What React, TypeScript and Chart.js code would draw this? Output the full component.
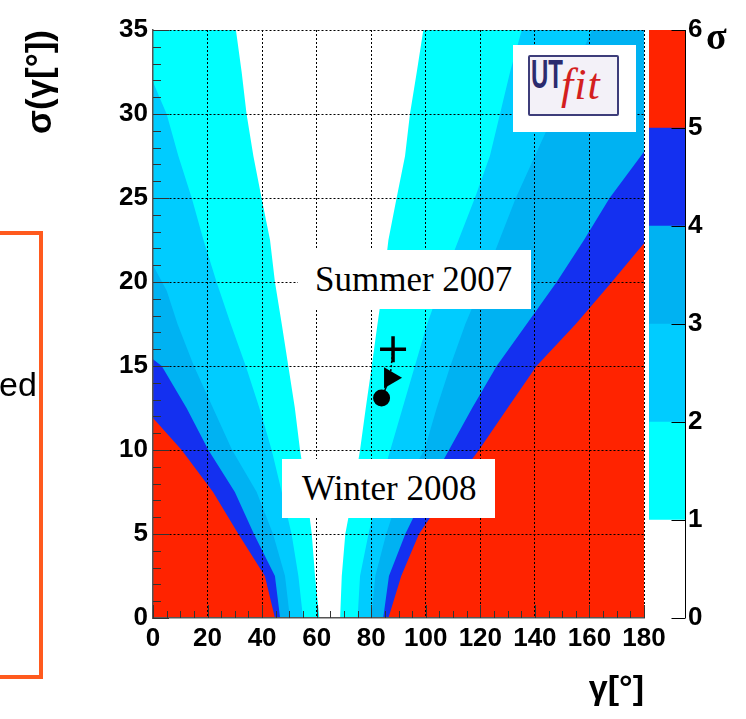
import React, { useEffect, useRef } from 'react';
import { Chart, registerables } from 'chart.js';

Chart.register(...registerables);
Chart.defaults.font.family = "'Liberation Sans', Arial, sans-serif";

// ---- colour scale (σ levels) ----
const levelEdges = [0, 1, 2, 3, 4, 5, 6];
const levelColors = ['#ffffff', '#00ffff', '#00ccff', '#00b2f2', '#1430f0', '#ff2300'];

// ---- axis ranges / ticks ----
const gammaRange = [0, 180];
const sigmaRange = [0, 35];
const gammaLabelStep = 20;
const sigmaLabelStep = 5;

// ---- contour boundaries: [γ, σ(γ)] ----
// left side: region with σ >= level lies at smaller γ
const leftLevel1 = [[61, 0], [59.4, 2.5], [58.2, 5], [56.3, 7.5], [53.9, 10], [52, 12.5], [49.6, 15], [47.2, 17.5], [44.7, 20], [42.9, 22.5], [39.8, 25], [36.8, 27.5], [34.3, 30], [32.5, 32.5], [30.4, 35]];
const leftLevel2 = [[55, 0], [53.3, 2.5], [50.8, 5], [47.2, 7.5], [43.5, 10], [39, 12.5], [34, 15], [28.5, 17.5], [23.3, 20], [18.5, 22.5], [14.2, 25], [9.3, 27.5], [5, 30], [0, 31.9]];
const leftLevel3 = [[50.2, 0], [48.4, 2.5], [44, 5], [38, 7.5], [29, 10], [22, 12.5], [15, 15], [9, 17.5], [5, 19.5], [0, 21]];
const leftLevel4 = [[46.6, 0], [44.7, 2.5], [37, 5], [30, 7.5], [20.3, 10], [12.3, 12.5], [3.2, 15], [0, 15.4]];
const leftLevel5 = [[44.7, 0], [41, 2.5], [31.3, 5], [22, 7.5], [10.5, 10], [0, 11.9]];
// right side: region with σ >= level lies at larger γ
const rightLevel1 = [[68.6, 0], [69.2, 2.5], [70.5, 5], [73.4, 7.5], [75.9, 10], [78, 12.5], [80.2, 15], [82.3, 17.5], [84.5, 20], [86.3, 22.5], [89.3, 25], [92.4, 27.5], [94.2, 30], [96.7, 32.5], [99.1, 35]];
const rightLevel2 = [[75, 0], [75.9, 2.5], [79, 5], [82.5, 7.5], [87, 10], [91.5, 12.5], [96, 15], [100.5, 17.5], [106, 20], [112, 22.5], [118, 25], [123.5, 27.5], [127.2, 30], [130.9, 32.5], [135.2, 35]];
const rightLevel3 = [[80, 0], [81.5, 2.5], [85.5, 5], [90.5, 7.5], [99.5, 10], [104, 12.5], [109, 15], [114.5, 17.5], [121, 20], [127, 22.5], [133, 25], [140, 27.5], [147, 30], [154, 32.5], [161, 35]];
const rightLevel4 = [[84.4, 0], [86.5, 2.5], [92.5, 5], [100, 7.5], [108.5, 10], [117, 12.5], [126, 15], [137, 17.5], [148, 20], [158, 22.5], [167.4, 25], [180, 27.75]];
const rightLevel5 = [[86.3, 0], [91, 2.5], [97.5, 5], [108, 7.5], [119.5, 10], [130, 12.5], [140.6, 15], [155, 17.5], [168.2, 20], [180, 22.3]];

// ---- markers [γ, σ(γ)] ----
const summerPoint = [88, 16];
const arrowPoint = [86.9, 14.3];
const winterPoint = [83.8, 13.1];

function leftPolygon(b: number[][]) {
  const top = b[b.length - 1];
  const pts = [{ x: gammaRange[0], y: 0 }, { x: gammaRange[0], y: top[1] }];
  for (let i = b.length - 1; i >= 0; i--) pts.push({ x: b[i][0], y: b[i][1] });
  return pts;
}
function rightPolygon(b: number[][]) {
  const top = b[b.length - 1];
  const pts = [{ x: gammaRange[1], y: 0 }, { x: gammaRange[1], y: top[1] }];
  for (let i = b.length - 1; i >= 0; i--) pts.push({ x: b[i][0], y: b[i][1] });
  return pts;
}

function regionDataset(points: any[], color: string) {
  return {
    data: points,
    fill: 'shape',
    backgroundColor: color,
    borderColor: color,
    borderWidth: 0,
    pointRadius: 0,
    showLine: true,
  };
}

const rootTicks = {
  id: 'rootTicks',
  afterDraw(chart: any) {
    const { ctx, chartArea, scales } = chart;
    const x = scales.x;
    const y = scales.y;
    ctx.save();
    ctx.strokeStyle = '#333';
    ctx.lineWidth = 1;
    ctx.beginPath();
    for (let g = gammaRange[0]; g <= gammaRange[1]; g += 5) {
      const px = Math.round(x.getPixelForValue(g)) + 0.5;
      const len = g % gammaLabelStep === 0 ? 13 : 7;
      ctx.moveTo(px, chartArea.bottom);
      ctx.lineTo(px, chartArea.bottom - len);
    }
    for (let s = sigmaRange[0]; s <= sigmaRange[1]; s += 1) {
      const py = Math.round(y.getPixelForValue(s)) + 0.5;
      const len = s % sigmaLabelStep === 0 ? 16 : 8;
      ctx.moveTo(chartArea.left, py);
      ctx.lineTo(chartArea.left + len, py);
    }
    ctx.stroke();
    ctx.restore();
  },
};

const barTicks = {
  id: 'barTicks',
  afterDraw(chart: any) {
    const { ctx, chartArea, scales } = chart;
    const y = scales.y;
    ctx.save();
    ctx.strokeStyle = '#000';
    ctx.lineWidth = 1;
    ctx.beginPath();
    const xr = Math.round(chartArea.right) + 0.5;
    ctx.moveTo(xr, y.getPixelForValue(levelEdges[0]));
    ctx.lineTo(xr, y.getPixelForValue(levelEdges[levelEdges.length - 1]));
    for (const v of levelEdges) {
      const py = Math.round(y.getPixelForValue(v)) + 0.5;
      ctx.moveTo(xr, py);
      ctx.lineTo(xr - 14, py);
    }
    ctx.stroke();
    ctx.restore();
  },
};

const gridColor = (c: any) => (c.tick && c.tick.value > 0 ? '#000' : 'rgba(0,0,0,0)');

function mainConfig(): any {
  const lefts = [leftLevel5, leftLevel4, leftLevel3, leftLevel2, leftLevel1];
  const rights = [rightLevel5, rightLevel4, rightLevel3, rightLevel2, rightLevel1];
  const regionSets: any[] = [];
  for (let i = 0; i < lefts.length; i++) {
    const color = levelColors[5 - i];
    regionSets.push(regionDataset(leftPolygon(lefts[i]), color));
    regionSets.push(regionDataset(rightPolygon(rights[i]), color));
  }
  return {
    type: 'line',
    data: {
      datasets: [
        {
          data: [summerPoint, arrowPoint, winterPoint].map((p) => ({ x: p[0], y: p[1] })),
          borderColor: '#000',
          borderWidth: 1.5,
          pointRadius: 0,
          fill: false,
          showLine: true,
          segment: { borderDash: (c: any) => (c.p0DataIndex === 0 ? [2, 2] : undefined) },
        },
        {
          data: [{ x: summerPoint[0], y: summerPoint[1] }],
          showLine: false,
          pointStyle: 'cross',
          pointRadius: 13,
          pointBorderWidth: 3.5,
          pointBorderColor: '#000',
          borderColor: '#000',
        },
        {
          data: [{ x: arrowPoint[0], y: arrowPoint[1] }],
          showLine: false,
          pointStyle: 'triangle',
          pointRotation: 90,
          pointRadius: 12,
          pointBorderWidth: 0,
          pointBackgroundColor: '#000',
          pointBorderColor: '#000',
        },
        {
          data: [{ x: winterPoint[0], y: winterPoint[1] }],
          showLine: false,
          pointStyle: 'circle',
          pointRadius: 8.5,
          pointBorderWidth: 0,
          pointBackgroundColor: '#000',
          pointBorderColor: '#000',
        },
        ...regionSets,
      ],
    },
    options: {
      animation: false,
      responsive: false,
      devicePixelRatio: 1,
      events: [],
      layout: { padding: { left: 0, right: 102, top: 30, bottom: 0 } },
      plugins: { legend: { display: false }, tooltip: { enabled: false } },
      scales: {
        x: {
          type: 'linear',
          min: gammaRange[0],
          max: gammaRange[1],
          ticks: { stepSize: gammaLabelStep, font: { size: 26, weight: 'bold' }, color: '#000', padding: 5, maxRotation: 0, autoSkip: false, z: 1 },
          grid: { color: gridColor, lineWidth: 1, drawTicks: false, z: 1 },
          border: { display: true, color: '#555', width: 1.5, dash: [2, 2], z: 1 },
          title: { display: true, text: 'γ[°]', align: 'end', color: '#000', font: { size: 34, weight: 'bold' }, padding: { top: 0, bottom: 9 } },
          afterFit: (s: any) => { s.height = 101; },
        },
        y: {
          type: 'linear',
          min: sigmaRange[0],
          max: sigmaRange[1],
          ticks: { stepSize: sigmaLabelStep, font: { size: 26, weight: 'bold' }, color: '#000', padding: 5, z: 1 },
          grid: { color: gridColor, lineWidth: 1, drawTicks: false, z: 1 },
          border: { display: true, color: '#555', width: 1.5, dash: [2, 2], z: 1 },
          title: { display: true, text: 'σ(γ[°])', align: 'end', color: '#000', font: { size: 35, weight: 'bold' }, padding: { top: 20, bottom: 0 } },
          afterFit: (s: any) => { s.width = 153; },
        },
      },
    },
    plugins: [rootTicks],
  };
}

function barConfig(): any {
  const datasets = levelColors.map((c, i) => ({
    data: [levelEdges[i + 1] - levelEdges[i]],
    backgroundColor: c,
    borderWidth: 0,
    barPercentage: 1,
    categoryPercentage: 1,
    stack: 'cb',
  }));
  return {
    type: 'bar',
    data: { labels: [''], datasets },
    options: {
      animation: false,
      responsive: false,
      devicePixelRatio: 1,
      events: [],
      layout: { padding: { left: 9, right: 0, top: 30, bottom: 101 } },
      plugins: { legend: { display: false }, tooltip: { enabled: false } },
      scales: {
        x: { display: false, stacked: true },
        y: {
          position: 'right',
          stacked: true,
          min: levelEdges[0],
          max: levelEdges[levelEdges.length - 1],
          ticks: { stepSize: 1, font: { size: 26, weight: 'bold' }, color: '#000', padding: 3 },
          grid: { drawOnChartArea: false, drawTicks: false },
          border: { display: false },
          afterFit: (s: any) => { s.width = 61; },
        },
      },
    },
    plugins: [barTicks],
  };
}

const serif = "'Liberation Serif', 'Times New Roman', serif";
const sans = "'Liberation Sans', Arial, sans-serif";

export default function App() {
  const mainRef = useRef<HTMLCanvasElement>(null);
  const barRef = useRef<HTMLCanvasElement>(null);

  useEffect(() => {
    const c1 = new Chart(mainRef.current as HTMLCanvasElement, mainConfig());
    const c2 = new Chart(barRef.current as HTMLCanvasElement, barConfig());
    return () => {
      c1.destroy();
      c2.destroy();
    };
  }, []);

  const box = (left: number, top: number, width: number, text: string, padLeft: number) => (
    <div
      style={{
        position: 'absolute', left, top, width, height: 59, background: '#fff',
        fontFamily: serif, fontSize: 35, lineHeight: '60px', color: '#000',
        paddingLeft: padLeft, boxSizing: 'border-box', whiteSpace: 'nowrap',
      }}
    >
      {text}
    </div>
  );

  return (
    <div style={{ position: 'absolute', left: 0, top: 0, width: 746, height: 719, background: '#fff', overflow: 'hidden' }}>
      <canvas ref={mainRef} width={746} height={719} style={{ position: 'absolute', left: 0, top: 0, width: 746, height: 719 }} />
      <canvas ref={barRef} width={106} height={719} style={{ position: 'absolute', left: 640, top: 0, width: 106, height: 719 }} />

      {box(298, 250, 233, 'Summer 2007', 17)}
      {box(282, 459, 213, 'Winter 2008', 20)}

      {/* UTfit logo */}
      <div style={{ position: 'absolute', left: 513, top: 45, width: 123, height: 87, background: '#fff' }} />
      <div style={{ position: 'absolute', left: 528, top: 55, width: 87, height: 57, border: '2px solid #3d3d7a', background: '#f3f1f8', borderRadius: 2 }} />
      <div style={{ position: 'absolute', left: 531, top: 54, fontFamily: sans, fontWeight: 'bold', fontSize: 40, lineHeight: 1, color: '#2b2b6e', transform: 'scaleX(0.6)', transformOrigin: 'left top', whiteSpace: 'nowrap' }}>UT</div>
      <div style={{ position: 'absolute', left: 561, top: 63, fontFamily: serif, fontStyle: 'italic', fontSize: 44, lineHeight: 1, color: '#d41f1f', letterSpacing: 1, whiteSpace: 'nowrap' }}>fit</div>

      {/* colour-bar title */}
      <div style={{ position: 'absolute', left: 706, top: 17, fontFamily: serif, fontWeight: 'bold', fontSize: 38, lineHeight: 1, color: '#000' }}>σ</div>

      {/* partial orange frame at the left edge */}
      <div style={{ position: 'absolute', left: -40, top: 231, width: 83, height: 448, border: '4px solid #ff5a1e', boxSizing: 'border-box' }} />
      <div style={{ position: 'absolute', left: -1, top: 367, fontFamily: sans, fontSize: 34, lineHeight: 1, color: '#000', whiteSpace: 'nowrap' }}>ed</div>
    </div>
  );
}
